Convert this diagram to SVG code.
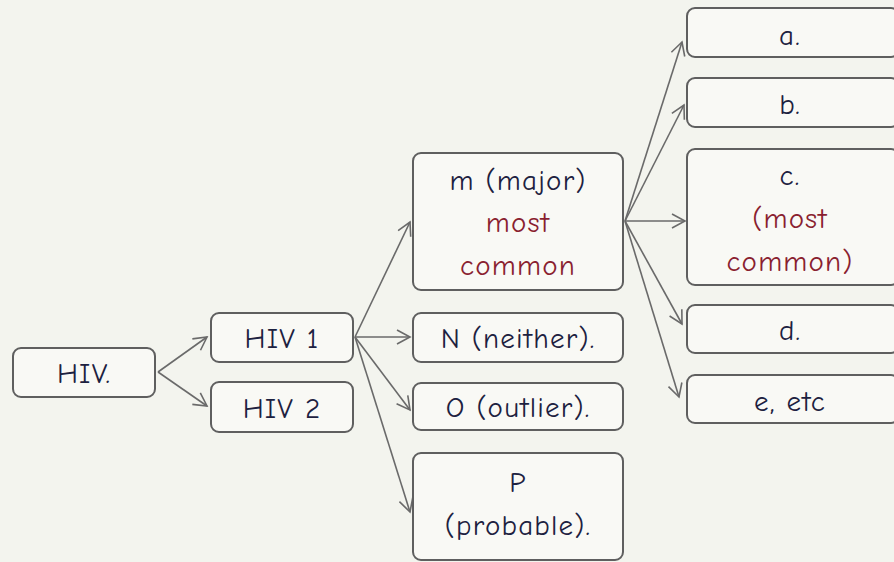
<svg xmlns="http://www.w3.org/2000/svg" width="894" height="562" viewBox="0 0 894 562">
  <style>
    .box { fill: #f9f9f5; stroke: #5f5f5f; stroke-width: 2; }
    .t { font-family: "Comic Neue", "Liberation Sans", Arial, sans-serif; font-size: 29px; letter-spacing: 1.2px; fill: #1d2140; text-anchor: middle; }
    .r { fill: #8a1f30; }
    .edge { fill: none; stroke: #6a6a6a; stroke-width: 1.6; marker-end: url(#head); }
  </style>
  <defs>
    <marker id="head" viewBox="0 0 16 16" refX="14" refY="8" markerWidth="16" markerHeight="16" markerUnits="userSpaceOnUse" orient="auto">
      <path d="M1,1 L14,8 L1,15" fill="none" stroke="#6a6a6a" stroke-width="1.6"/>
    </marker>
  </defs>
  <rect width="894" height="562" fill="#f3f4ee"/>

  <g id="connectors">
    <line class="edge" x1="158" y1="372" x2="207" y2="337"/>
    <line class="edge" x1="158" y1="372" x2="207" y2="406"/>
    <line class="edge" x1="355" y1="337" x2="410" y2="222"/>
    <line class="edge" x1="355" y1="337" x2="410" y2="337"/>
    <line class="edge" x1="355" y1="337" x2="410" y2="410"/>
    <line class="edge" x1="355" y1="337" x2="410" y2="512"/>
    <line class="edge" x1="625" y1="221" x2="682" y2="42"/>
    <line class="edge" x1="625" y1="221" x2="684" y2="105"/>
    <line class="edge" x1="625" y1="221" x2="685" y2="221"/>
    <line class="edge" x1="625" y1="221" x2="682" y2="324"/>
    <line class="edge" x1="625" y1="221" x2="679" y2="397"/>
  </g>

  <g id="hiv">
    <rect class="box" x="13" y="348" width="142" height="49" rx="8"/>
    <text class="t" x="84" y="383">HIV.</text>
  </g>
  <g id="hiv1">
    <rect class="box" x="211" y="313" width="142" height="49" rx="8"/>
    <text class="t" x="282" y="348">HIV 1</text>
  </g>
  <g id="hiv2">
    <rect class="box" x="211" y="382" width="142" height="50" rx="8"/>
    <text class="t" x="282" y="418">HIV 2</text>
  </g>
  <g id="group-m">
    <rect class="box" x="413" y="153" width="210" height="137" rx="8"/>
    <text class="t" x="518" y="190">m (major)</text>
    <text class="t r" x="518" y="232">most</text>
    <text class="t r" x="518" y="275">common</text>
  </g>
  <g id="group-n">
    <rect class="box" x="413" y="313" width="210" height="49" rx="8"/>
    <text class="t" x="518" y="348">N (neither).</text>
  </g>
  <g id="group-o">
    <rect class="box" x="413" y="383" width="210" height="47" rx="8"/>
    <text class="t" x="518" y="417">O (outlier).</text>
  </g>
  <g id="group-p">
    <rect class="box" x="413" y="453" width="210" height="107" rx="8"/>
    <text class="t" x="518" y="492">P</text>
    <text class="t" x="518" y="535">(probable).</text>
  </g>
  <g id="subtype-a">
    <rect class="box" x="687" y="8" width="212" height="49" rx="8"/>
    <text class="t" x="790" y="45">a.</text>
  </g>
  <g id="subtype-b">
    <rect class="box" x="687" y="78" width="212" height="49" rx="8"/>
    <text class="t" x="790" y="114">b.</text>
  </g>
  <g id="subtype-c">
    <rect class="box" x="687" y="149" width="212" height="136" rx="8"/>
    <text class="t" x="790" y="185">c.</text>
    <text class="t r" x="790" y="228">(most</text>
    <text class="t r" x="790" y="271">common)</text>
  </g>
  <g id="subtype-d">
    <rect class="box" x="687" y="305" width="212" height="48" rx="8"/>
    <text class="t" x="790" y="340">d.</text>
  </g>
  <g id="subtype-e">
    <rect class="box" x="687" y="375" width="212" height="48" rx="8"/>
    <text class="t" x="790" y="411">e, etc</text>
  </g>
</svg>
